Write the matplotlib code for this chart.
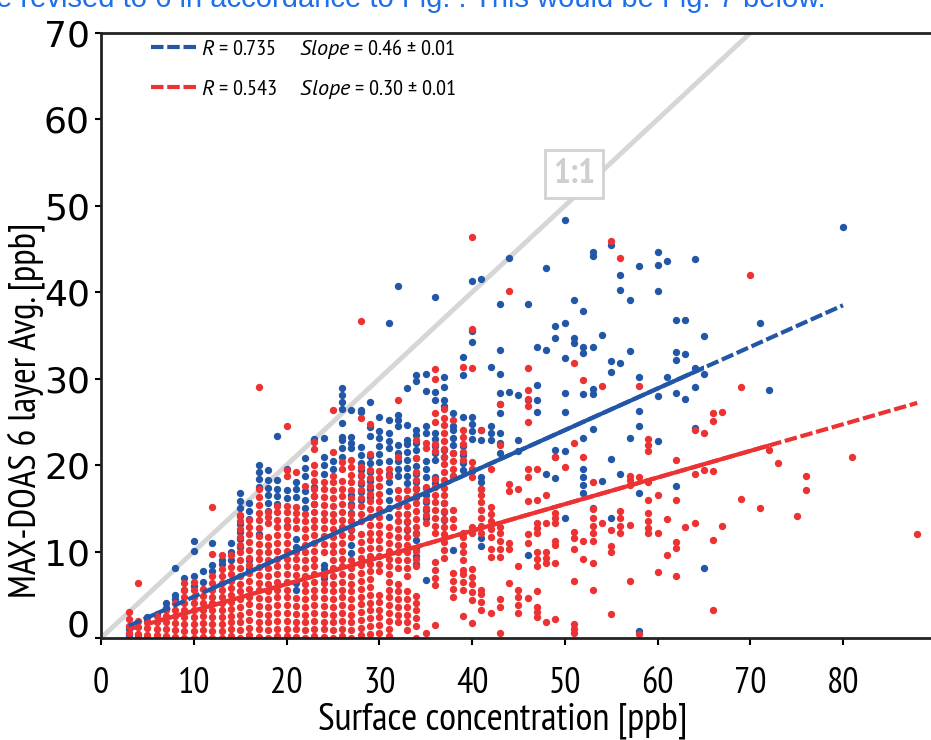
import matplotlib
matplotlib.use("Agg")
import matplotlib.pyplot as plt
import matplotlib.transforms as mtrans
from matplotlib.lines import Line2D
from matplotlib.patches import Rectangle

plt.rcParams['font.family'] = ['PT Sans Narrow', 'DejaVu Sans']
plt.rcParams['mathtext.fontset'] = 'custom'
plt.rcParams['mathtext.it'] = 'PT Sans:italic'
plt.rcParams['mathtext.rm'] = 'PT Sans Narrow'

BLUE = '#2257a8'
RED = '#ec3232'
GRAY = '#d6d6d6'

# red series: y values read per surface-concentration column
red_cols = {
    3: [0.6, 1.4, 2.2, 3.0],
    4: [0.5, 1.3, 2.0, 6.4],
    5: [0.4, 1.2, 2.0],
    6: [0.3, 1.1, 1.9, 2.6],
    7: [0.2, 1.0, 1.8, 2.6, 3.3],
    8: [0.1, 0.9, 1.7, 2.5, 3.3, 4.1],
    9: [0.0, 0.8, 1.6, 2.4, 3.2, 4.0, 4.8, 5.6, 6.4],
    10: [0.0, 0.8, 1.6, 2.4, 3.2, 4.0, 4.8, 5.6, 6.5],
    11: [0.1, 0.9, 1.7, 2.5, 3.3, 4.1, 4.9, 5.7],
    12: [0.0, 0.8, 1.6, 2.4, 3.2, 4.0, 4.8, 5.6, 6.4, 7.2, 9.7, 15.2],
    13: [0.0, 0.8, 1.6, 2.4, 3.2, 4.0, 4.8, 5.6, 6.4, 7.2, 8.0, 9.6],
    14: [0.2, 1.0, 1.8, 2.6, 3.4, 4.2, 5.0, 5.8, 6.6, 7.4, 8.2, 9.6],
    15: [0.0, 0.9, 1.8, 2.7, 3.6, 4.5, 5.4, 6.3, 7.2, 8.1, 9.0, 9.9, 10.8, 11.7, 12.6, 13.5, 14.2],
    16: [0.3, 1.2, 2.1, 3.0, 3.9, 4.8, 5.7, 6.6, 7.5, 8.4, 9.3, 10.2, 11.1, 12.0, 12.9, 13.7],
    17: [0.1, 1.0, 1.9, 2.8, 3.7, 4.6, 5.5, 6.4, 7.3, 8.2, 9.1, 10.0, 10.9, 11.8, 12.7, 13.6,
         14.5, 15.4, 16.3, 17.2, 29.1],
    18: [0.0, 0.9, 1.8, 2.7, 3.6, 4.5, 5.4, 6.3, 7.2, 8.1, 9.0, 9.9, 10.8, 11.7, 13.3, 14.0, 14.6],
    19: [0.2, 1.1, 2.0, 2.9, 3.8, 4.7, 5.6, 6.5, 7.4, 8.3, 9.2, 10.1, 11.0, 11.9, 12.8, 13.7,
         14.6, 15.3],
    20: [0.2, 1.1, 2.0, 2.9, 3.8, 4.7, 5.6, 6.5, 7.4, 8.3, 9.2, 10.1, 11.0, 11.9, 12.8, 13.7,
         14.6, 15.3, 18.7, 19.4, 24.5],
    21: [0.1, 1.0, 1.9, 2.8, 3.7, 4.6, 7.3, 8.2, 9.1, 10.0, 12.7, 13.6, 14.5, 15.2, 19.2],
    22: [0.0, 0.9, 1.8, 2.7, 3.6, 4.5, 5.4, 6.3, 7.2, 8.1, 9.0, 9.9, 10.8, 11.7, 12.6, 13.5,
         14.4, 17.6],
    23: [0.2, 1.1, 2.0, 2.9, 3.8, 4.7, 5.6, 6.5, 7.4, 8.3, 9.2, 10.1, 11.0, 11.9, 12.8, 13.7,
         14.6, 15.5, 16.4, 17.3, 18.2, 19.1, 20.0, 21.9, 22.7],
    24: [0.1, 1.0, 1.9, 2.8, 3.7, 4.6, 5.5, 6.4, 7.3, 10.0, 10.9, 11.8, 12.7, 13.6, 14.5, 15.4,
         16.3, 17.2, 18.1],
    25: [0.0, 0.9, 1.8, 2.7, 3.6, 4.5, 5.4, 6.3, 7.2, 8.1, 9.0, 9.9, 10.8, 11.7, 12.6, 13.5,
         14.4, 15.3, 16.2, 17.1, 18.0, 18.8, 21.5, 26.4],
    26: [0.2, 1.1, 2.0, 2.9, 3.8, 4.7, 5.6, 6.5, 7.4, 8.3, 9.2, 10.1, 11.0, 11.9, 12.8, 13.7,
         14.6, 15.5, 16.4, 17.3, 18.2, 19.6, 20.4],
    27: [0.0, 0.9, 1.8, 2.7, 3.6, 4.5, 5.4, 6.3, 7.2, 8.1, 9.0, 11.7, 12.6, 13.5, 14.4, 15.3,
         16.2, 17.1, 18.0, 18.9, 19.8, 20.6],
    28: [0.3, 1.2, 2.1, 3.0, 3.9, 4.8, 5.7, 6.6, 7.5, 8.4, 9.3, 10.2, 11.1, 12.0, 13.5, 14.4,
         15.3, 16.2, 17.1, 18.0, 18.9, 19.8, 25.4, 36.7],
    29: [0.5, 1.4, 2.3, 3.2, 4.1, 5.0, 5.9, 6.8, 7.7, 8.6, 9.5, 10.4, 11.3, 12.2, 13.1, 14.0,
         14.9, 15.8, 16.7, 17.6, 18.5, 19.4, 21.3, 24.8],
    30: [0.6, 1.5, 2.4, 3.3, 4.2, 5.0, 7.7, 8.6, 9.5, 10.4, 11.3, 12.2, 13.1, 14.0, 14.9, 15.8,
         16.7, 17.6, 18.5, 19.3],
    31: [0.2, 1.1, 2.0, 2.9, 3.8, 4.7, 5.6, 6.5, 7.4, 8.3, 9.2, 10.1, 11.0, 11.9, 12.8, 18.7, 19.5],
    32: [1.8, 2.7, 3.6, 4.5, 5.4, 6.3, 8.1, 9.0, 9.9, 10.8, 11.7, 12.6, 13.5, 14.4, 15.3, 16.2,
         17.1, 21.0, 27.5],
    33: [0.9, 1.8, 2.7, 3.6, 4.5, 5.4, 7.2, 8.1, 9.0, 9.9, 10.8, 11.7, 12.6, 13.5, 14.4, 15.3,
         16.2, 17.1],
    34: [0.0, 1.4, 2.3, 3.2, 4.0, 4.9, 8.3, 9.2, 10.1, 12.0, 12.9, 13.8, 14.7, 15.6, 16.5, 17.4,
         18.3, 19.2, 20.8, 22.9],
    35: [0.6, 13.3, 14.2, 15.1, 16.0, 17.5, 22.0, 22.6],
    36: [1.5, 6.1, 7.0, 7.9, 8.8, 12.1, 13.0, 13.9, 14.8, 15.7, 16.6, 17.5, 18.4, 21.6, 22.5,
         25.0, 26.0, 30.0, 31.1],
    37: [9.3, 10.2, 11.1, 12.0, 12.9, 13.8, 14.7, 15.6, 16.5, 17.4, 18.3, 19.2, 20.1, 21.0, 21.9,
         22.8, 23.7, 24.6, 25.5, 26.5],
    38: [4.8, 5.7, 6.6, 7.5, 12.9, 13.8, 14.8, 18.7, 19.6, 20.5, 21.4, 25.2],
    39: [2.5, 5.6, 6.5, 7.4, 7.9, 9.0, 9.9, 10.8, 11.7, 12.1, 20.6, 21.5, 22.4, 23.3, 24.1, 31.4],
    40: [1.7, 4.4, 5.3, 6.2, 7.1, 8.0, 12.1, 12.9, 18.6, 19.5, 20.4, 31.2, 35.8, 46.4],
    41: [3.3, 4.2, 5.1, 5.6, 12.1, 13.0, 13.9, 14.8, 15.7, 16.6, 17.2, 24.1],
    42: [2.9, 9.4, 10.3, 11.7, 12.6, 13.5, 14.4, 15.2, 19.5],
    43: [0.6, 3.6, 4.5, 9.4, 10.3, 11.2, 12.1, 12.9, 22.3, 27.1],
    44: [6.4, 10.3, 11.0, 17.0, 17.8, 40.1],
    45: [2.9, 3.8, 4.7, 5.6, 8.3, 17.2],
    46: [4.6, 11.0, 12.0, 15.8, 18.6, 19.6, 25.0, 26.8, 27.7, 28.7, 31.2],
    47: [2.4, 3.0, 3.6, 5.4, 8.3, 9.1, 9.9, 12.1, 12.7, 13.3, 16.0, 19.6],
    48: [1.9, 8.7, 9.3, 9.9, 13.3, 16.5],
    49: [2.2, 8.7, 10.8, 11.2, 13.3, 13.9, 14.5, 20.9],
    50: [19.8],
    51: [0.6, 1.1, 1.6, 6.6, 10.3, 11.6, 12.3, 22.6, 31.8],
    52: [9.1, 11.2, 20.9, 29.9],
    53: [5.6, 8.7, 11.2, 12.1, 13.0, 13.9, 14.9, 18.1],
    54: [13.3, 29.2],
    55: [2.8, 10.0, 10.7, 12.5, 45.9],
    56: [12.1, 13.0, 13.9, 14.7, 44.0],
    57: [6.6, 13.1, 17.7, 18.3, 18.8],
    58: [0.5, 18.6, 29.2],
    59: [12.1, 12.7, 13.5, 14.5, 16.0, 18.1, 21.6, 22.3, 23.0],
    60: [7.6, 12.2, 16.5],
    61: [9.6, 13.8],
    62: [7.2, 10.4, 11.1, 16.0, 20.6],
    63: [12.9],
    64: [13.3, 19.0, 24.1],
    65: [19.4, 23.7],
    66: [3.2, 11.3, 19.3, 25.1, 26.0],
    67: [13.0, 26.2],
    69: [16.1, 29.1],
    70: [42.0],
    71: [15.0],
    72: [21.7],
    73: [20.2],
    75: [14.1],
    76: [17.1, 18.8],
    81: [20.9],
    88: [12.0],
}

# blue series: y values read per surface-concentration column
blue_cols = {
    3: [0.3, 1.0], 4: [0.4], 5: [2.4], 6: [2.8], 7: [3.5, 4.0],
    8: [4.5, 5.0, 8.1], 9: [5.5, 7.0], 10: [6.0, 7.2, 10.1, 11.2], 11: [6.5, 7.8],
    12: [7.8, 8.5, 11.0], 13: [8.6, 9.0], 14: [9.0, 10.0, 11.0],
    15: [10.5, 11.4, 12.3, 13.2, 14.1, 15.0, 15.9, 16.8],
    16: [8.0, 9.0, 13.8, 14.7, 15.6],
    17: [12.0, 17.5, 18.4, 19.2, 20.0],
    18: [14.7, 15.6, 16.5, 17.4, 18.3, 19.4],
    19: [15.5, 16.4, 17.3, 18.3, 23.4],
    20: [13.0, 16.2, 17.1, 19.5],
    21: [5.5, 6.4, 10.5, 11.4, 16.3, 17.2, 18.0],
    22: [15.0, 16.0, 17.0, 18.8, 19.7, 20.8],
    23: [15.5, 16.4, 17.5, 23.0],
    24: [7.0, 8.0, 8.5, 19.0, 20.0, 21.0, 23.2],
    25: [19.5, 20.5],
    26: [21.0, 22.0, 22.9, 23.3, 24.9, 26.5, 27.3, 28.1, 28.9],
    27: [9.8, 10.8, 12.5, 13.5, 14.5, 15.5, 16.5, 22.0, 22.6, 23.3, 26.4],
    28: [16.0, 16.9, 17.8, 18.7, 19.4, 20.3, 21.2, 22.1, 26.2, 26.4],
    29: [16.3, 17.3, 18.2, 19.2, 20.2, 21.1, 23.4, 24.4, 27.3],
    30: [20.4, 21.3, 22.2, 23.1, 24.0, 25.6],
    31: [14.0, 15.0, 16.0, 17.0, 18.0, 19.0, 20.5, 22.0, 22.8, 23.7, 25.2, 36.4],
    32: [18.7, 19.6, 20.5, 21.4, 22.3, 24.5, 25.2, 25.8, 40.7],
    33: [12.5, 13.4, 14.3, 17.9, 18.8, 19.7, 20.6, 21.5, 22.4, 22.9, 24.6, 28.9],
    34: [8.6, 9.5, 10.4, 11.3, 12.2, 16.3, 17.2, 18.1, 19.0, 19.9, 20.8, 21.7, 22.6, 23.5, 24.1,
         29.7, 30.4],
    35: [6.7, 13.9, 14.8, 15.7, 16.6, 17.4, 18.6, 19.5, 20.5, 23.7, 24.5, 28.6, 30.6],
    36: [17.9, 18.6, 20.6, 21.4, 22.2, 23.0, 23.7, 27.5, 28.5, 39.5],
    37: [13.7, 14.6, 15.6, 21.0, 21.8, 26.8, 27.5, 29.1, 30.2],
    38: [10.2, 18.7, 21.4, 22.3, 23.2, 24.1, 24.5, 26.0],
    39: [19.4, 20.3, 21.2, 22.2, 25.6, 30.4, 32.5],
    40: [19.3, 23.0, 23.9, 24.8, 25.6, 34.3, 35.5, 41.3],
    41: [10.7, 11.6, 17.2, 18.0, 18.6, 22.9, 24.1, 41.5],
    42: [22.9, 23.7, 24.5, 31.4],
    43: [21.4, 22.6, 23.7, 26.0, 27.1, 28.3, 30.6, 33.3, 38.7],
    44: [28.5, 44.0],
    45: [21.6, 22.9, 28.1],
    46: [9.6, 27.5, 38.7],
    47: [26.2, 27.5, 29.3, 33.7],
    48: [19.0, 33.3, 42.8],
    49: [18.5, 20.9, 21.8, 34.7, 36.1],
    50: [13.9, 21.6, 26.2, 28.3, 32.4, 36.5, 48.4],
    51: [34.1, 34.7, 39.1],
    52: [16.8, 17.7, 18.6, 19.5, 23.1, 28.2, 33.0, 33.7, 37.8],
    53: [15.0, 24.2, 28.2, 28.8, 33.7, 44.2, 44.7],
    54: [18.2, 35.1],
    55: [13.9, 20.7, 30.8, 32.0, 45.5],
    56: [19.0, 31.8, 40.3, 42.0],
    57: [23.1, 33.2, 39.1],
    58: [0.8, 16.8, 24.5, 26.3, 30.2, 43.0],
    60: [22.8, 28.0, 40.1, 43.2, 44.7],
    61: [30.2, 43.6],
    62: [17.6, 28.4, 32.2, 33.1, 36.8],
    63: [27.6, 32.9, 36.8],
    64: [24.3, 29.1, 31.2, 43.8],
    65: [8.1, 30.6, 34.9],
    71: [36.4],
    72: [28.7],
    80: [47.6],
}

# fitted lines (end points)
blue_fit_x = [3, 80]
blue_fit_y = [1.4, 38.5]
red_fit_x = [3, 88]
red_fit_y = [1.0, 27.2]
one_x = [0, 90]
one_y = [0, 90]

blue_label = r'$R$ = 0.735     $Slope$ = 0.46 ± 0.01'
red_label = r'$R$ = 0.543     $Slope$ = 0.30 ± 0.01'


def flatten(cols):
    xs, ys = [], []
    for x, vals in cols.items():
        for v in vals:
            xs.append(x)
            ys.append(v)
    return xs, ys


bx, by = flatten(blue_cols)
rx, ry = flatten(red_cols)

fig = plt.figure(figsize=(9.31, 7.40), dpi=100)
ax = fig.add_axes([0.1085, 0.1378, 0.8966, 0.8176])

ax.plot(one_x, one_y, color=GRAY, lw=3.5, zorder=1, solid_capstyle='butt')

ax.scatter(bx, by, s=28, marker='o', color=BLUE, linewidths=0, zorder=2)
ax.scatter(rx, ry, s=28, marker='o', color=RED, linewidths=0, zorder=2.1)

# fit lines: dashed overall, solid where the data are dense
for fx, fy, col, lo, hi in [(blue_fit_x, blue_fit_y, BLUE, 12, 65),
                            (red_fit_x, red_fit_y, RED, 6, 72)]:
    ax.plot(fx, fy, color=col, lw=3, ls=(0, (3, 0.9)), zorder=3)
    solid, = ax.plot(fx, fy, color=col, lw=3, zorder=3, solid_capstyle='butt')
    solid.set_clip_path(Rectangle((lo, 0), hi - lo, 70, transform=ax.transData))

ax.text(51, 53.7, '1:1', ha='center', va='center', fontsize=25, fontweight='bold',
        color='#cfcfcf', zorder=4,
        bbox=dict(boxstyle='square,pad=0.22', facecolor='white', edgecolor='#d2d2d2', lw=2))

ax.set_xlim(0, 90)
ax.set_ylim(0, 70)
ax.set_xticks(range(0, 90, 10))
ax.set_yticks(range(0, 80, 10))

for side in ['left', 'bottom', 'top']:
    ax.spines[side].set_linewidth(2)
    ax.spines[side].set_color('#222222')
ax.spines['right'].set_visible(False)

ax.tick_params(axis='x', direction='out', length=5, width=1.5, pad=16, labelsize=26)
ax.tick_params(axis='y', direction='out', length=4, width=1.5, pad=4, labelsize=26)
for lab in ax.get_yticklabels():
    lab.set_family('DejaVu Sans')
# the "0" on the y axis sits a little above the x axis line
lab0 = ax.yaxis.get_major_ticks()[0].label1
lab0.set_transform(lab0.get_transform() + mtrans.ScaledTranslation(0, 11 / 72, fig.dpi_scale_trans))

ax.set_xlabel('Surface concentration [ppb]', fontsize=28, va='center')
ax.xaxis.set_label_coords(0.4816, -0.137)
ax.set_ylabel('MAX-DOAS 6 layer Avg. [ppb]', fontsize=27, va='center')
ax.yaxis.set_label_coords(-0.09, 0.377)

handles = [Line2D([], [], color=BLUE, lw=3, ls=(0, (3, 0.9))),
           Line2D([], [], color=RED, lw=3, ls=(0, (3, 0.9)))]
ax.legend(handles, [blue_label, red_label], loc='upper left', bbox_to_anchor=(0.047, 1.012),
          frameon=False, fontsize=16, handlelength=2.1, handletextpad=0.15,
          labelspacing=0.75, borderaxespad=0.1)

fig.text(-0.004, 1 - 7 / 740, 'e revised to 6 in accordance to Fig. . This would be Fig. 7 below.',
         color='#1f6fe8', fontsize=21, va='baseline', ha='left', family='Liberation Sans')

fig.savefig('out.png', dpi=100)
